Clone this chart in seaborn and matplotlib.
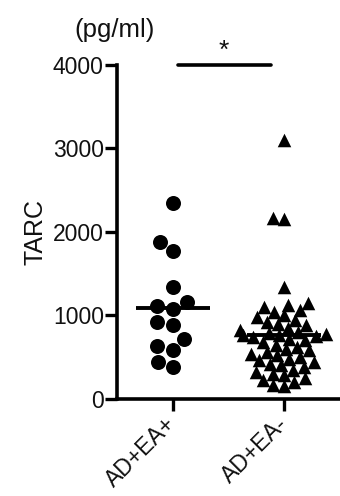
import matplotlib
matplotlib.use('Agg')
import matplotlib.pyplot as plt
import seaborn as sns
import numpy as np
import pandas as pd

groups = ['AD+EA+', 'AD+EA-']
tarc_ea_pos = [2350, 1880, 1770, 1340, 1160, 1110, 1075, 915, 887, 716, 629, 589, 445, 378]
tarc_ea_neg = [3100, 2170, 2160, 1340,
               1150, 1120, 1100, 1060, 1040, 1000, 980, 950, 920, 900,
               880, 850, 830, 800, 790, 780, 770, 760, 750, 740, 720, 700,
               680, 650, 620, 600, 580, 560, 540, 520, 500, 480, 460, 440,
               420, 400, 380, 350, 320, 300, 280, 250, 220, 200, 170, 150]

df = pd.DataFrame({
    'group': [groups[0]] * len(tarc_ea_pos) + [groups[1]] * len(tarc_ea_neg),
    'TARC': tarc_ea_pos + tarc_ea_neg,
})

sns.set_style('ticks')
plt.rcParams['font.family'] = ['Liberation Sans', 'DejaVu Sans']
plt.rcParams['text.color'] = '#111111'

fig = plt.figure(figsize=(3.4, 4.96), dpi=100)
ax = fig.add_axes([0.344, 0.196, 0.656, 0.673])

sns.swarmplot(data=df[df['group'] == groups[0]], x='group', y='TARC', order=groups,
              marker='o', color='black', size=10.8, ax=ax)
sns.swarmplot(data=df[df['group'] == groups[1]], x='group', y='TARC', order=groups,
              marker='^', color='black', size=7.6, ax=ax)

ax.set_xlim(-0.5, 1.5)
ax.set_ylim(0, 4000)

# lay the swarm out with small markers, then freeze it and enlarge the
# triangles so they overlap like in the original figure
fig.canvas.draw()
tri = ax.collections[-1]
if 'draw' in tri.__dict__:
    del tri.draw
tri.set_sizes([95])

# mean lines
for i, vals in enumerate([tarc_ea_pos, tarc_ea_neg]):
    ax.hlines(np.mean(vals), i - 0.33, i + 0.33, color='black', lw=2.8, zorder=4)

ax.set_yticks([0, 1000, 2000, 3000, 4000])
ax.set_xlabel('')
ax.set_ylabel('TARC', fontsize=18, labelpad=4, color='#111111')
sns.despine(ax=ax)
for side in ['left', 'bottom']:
    ax.spines[side].set_linewidth(2.6)
    ax.spines[side].set_color('black')
ax.tick_params(axis='both', width=2.4, length=8.5, labelsize=16.5,
               colors='black', labelcolor='#111111')
ax.tick_params(axis='y', pad=1)
plt.setp(ax.get_xticklabels(), rotation=45, ha='right', va='center',
         rotation_mode='anchor')
for lab in ax.get_xticklabels():
    lab.set_y(-0.015)

# significance bar
ax.plot([0.045, 0.88], [4000, 4000], color='black', lw=2.6, clip_on=False)
ax.text(0.46, 4030, '*', ha='center', va='bottom', fontsize=19)
fig.text(0.336, 0.94, '(pg/ml)', ha='center', va='center', fontsize=18.5)

fig.savefig('out.png', dpi=100)
